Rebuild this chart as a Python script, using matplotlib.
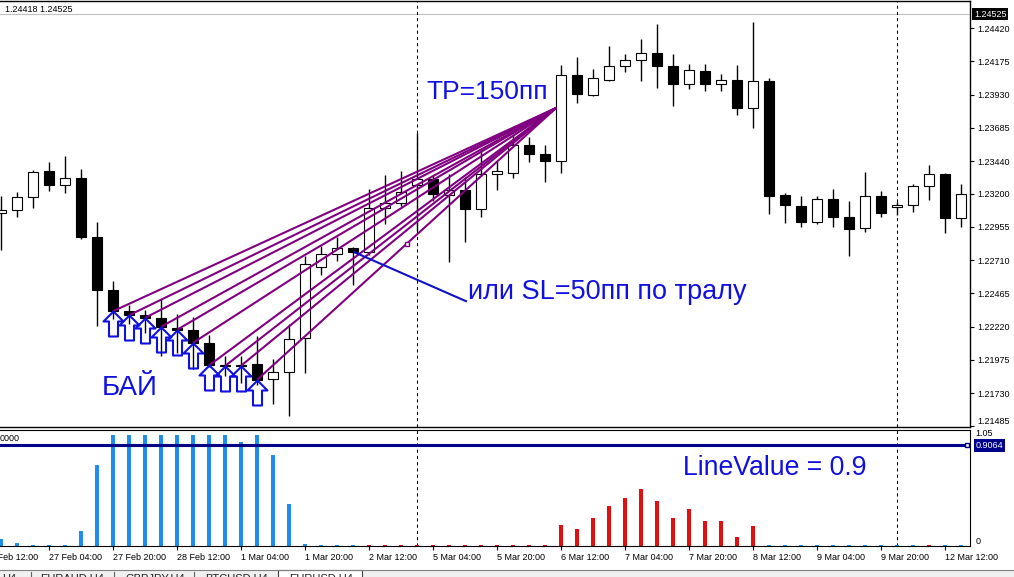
import numpy as np
import matplotlib.pyplot as plt
import matplotlib.transforms as mtransforms
from matplotlib.path import Path
from matplotlib.patches import Rectangle
from matplotlib.lines import Line2D

plt.rcParams['font.family'] = ['Liberation Sans', 'DejaVu Sans']

# EURUSD H4 candles, bar 0 = 26 Feb 16:00
opens = [1.23058, 1.23080, 1.23176, 1.23367, 1.23264, 1.23316, 1.22882, 1.22491, 1.22334, 1.22307,
         1.22285, 1.22212, 1.22194, 1.22101, 1.21938, 1.21940, 1.21942, 1.21831, 1.21888, 1.22138,
         1.22661, 1.22757, 1.22800, 1.22768, 1.23095, 1.23132, 1.23266, 1.23308, 1.23193, 1.23230,
         1.23088, 1.23344, 1.23353, 1.23561, 1.23492, 1.23445, 1.24076, 1.23929, 1.24037, 1.24142,
         1.24186, 1.24236, 1.24144, 1.24008, 1.24105, 1.24008, 1.24039, 1.23831, 1.24032, 1.23193,
         1.23112, 1.22992, 1.23163, 1.23031, 1.22948, 1.23185, 1.23102, 1.23114, 1.23257, 1.23345,
         1.23021]
highs = [1.23180, 1.23210, 1.23377, 1.23436, 1.23475, 1.23382, 1.22992, 1.22560, 1.22383, 1.22346,
         1.22425, 1.22310, 1.22290, 1.22162, 1.22003, 1.22003, 1.22148, 1.21978, 1.22236, 1.22739,
         1.22817, 1.22882, 1.22805, 1.23235, 1.23340, 1.23369, 1.23647, 1.23340, 1.23347, 1.23323,
         1.23524, 1.23438, 1.23634, 1.23615, 1.23561, 1.24150, 1.24206, 1.24120, 1.24289, 1.24231,
         1.24341, 1.24451, 1.24228, 1.24155, 1.24155, 1.24081, 1.24150, 1.24468, 1.24052, 1.23205,
         1.23180, 1.23185, 1.23232, 1.23149, 1.23357, 1.23222, 1.23136, 1.23272, 1.23414, 1.23353,
         1.23272]
lows = [1.22788, 1.23026, 1.23095, 1.23217, 1.23205, 1.22867, 1.22224, 1.22273, 1.22236, 1.22175,
        1.22003, 1.22028, 1.21905, 1.21920, 1.21856, 1.21807, 1.21787, 1.21647, 1.21561, 1.21881,
        1.22604, 1.22702, 1.22530, 1.22751, 1.22979, 1.23112, 1.22928, 1.23144, 1.22695, 1.22842,
        1.23029, 1.23230, 1.23316, 1.23434, 1.23286, 1.23353, 1.23868, 1.23924, 1.24030, 1.24100,
        1.24034, 1.23978, 1.23850, 1.23973, 1.23960, 1.23960, 1.23778, 1.23688, 1.23051, 1.22985,
        1.22955, 1.22979, 1.22955, 1.22739, 1.22915, 1.23029, 1.23046, 1.23066, 1.23151, 1.22911,
        1.22955]
closes = [1.23083, 1.23176, 1.23360, 1.23261, 1.23316, 1.22879, 1.22488, 1.22334, 1.22304, 1.22285,
          1.22219, 1.22197, 1.22101, 1.21934, 1.21930, 1.21932, 1.21828, 1.21886, 1.22131, 1.22685,
          1.22759, 1.22800, 1.22768, 1.23095, 1.23132, 1.23213, 1.23308, 1.23198, 1.23230, 1.23088,
          1.23344, 1.23369, 1.23561, 1.23492, 1.23445, 1.24076, 1.23934, 1.24052, 1.24142, 1.24186,
          1.24236, 1.24144, 1.24008, 1.24113, 1.24008, 1.24039, 1.23831, 1.24032, 1.23185, 1.23119,
          1.22992, 1.23163, 1.23026, 1.22940, 1.23185, 1.23058, 1.23119, 1.23257, 1.23345, 1.23021,
          1.23198]

# indicator histogram (blue = buy, red = sell)
buy_hist = [0.066, 0.024, 0.008, 0.008, 0.008, 0.132, 0.727, 1.0, 1.0, 1.0,
            1.0, 1.0, 1.0, 1.0, 1.0, 0.937, 1.0, 0.817, 0.375, 0.015,
            0.008, 0.008, 0.008, 0, 0, 0, 0, 0, 0, 0,
            0, 0, 0, 0, 0, 0, 0, 0, 0, 0,
            0, 0, 0, 0, 0, 0, 0, 0, 0.008, 0.008,
            0.008, 0.008, 0.008, 0.008, 0.008, 0.008, 0.008, 0.008, 0, 0.008,
            0.008]
sell_hist = [0, 0, 0, 0, 0, 0, 0, 0, 0, 0,
             0, 0, 0, 0, 0, 0, 0, 0, 0, 0,
             0, 0, 0, 0.008, 0.008, 0.008, 0.008, 0.008, 0.008, 0.008,
             0.008, 0.008, 0.008, 0.008, 0.008, 0.186, 0.15, 0.25, 0.36, 0.433,
             0.511, 0.41, 0.25, 0.33, 0.222, 0.222, 0.081, 0.177, 0, 0,
             0, 0, 0, 0, 0, 0, 0, 0, 0.008, 0,
             0]
line_value = 0.9064

buy_bars = [7, 8, 9, 10, 11, 12, 13, 14, 15, 16]
tp_bar, tp_price = 34.7, 1.23833
sl_note_end = (29.06, 1.22408)
week_seps = [26, 56]
bid, ask_txt = 1.24525, '1.24418 1.24525'

price_ticks = [1.24420, 1.24175, 1.23930, 1.23685, 1.23440, 1.23200, 1.22955,
               1.22710, 1.22465, 1.22220, 1.21975, 1.21730, 1.21485]
time_ticks = [3, 7, 11, 15, 19, 23, 27, 31, 35, 39, 43, 47, 51, 55, 59]
time_labels = ['27 Feb 04:00', '27 Feb 20:00', '28 Feb 12:00', '1 Mar 04:00', '1 Mar 20:00',
               '2 Mar 12:00', '5 Mar 04:00', '5 Mar 20:00', '6 Mar 12:00', '7 Mar 04:00',
               '7 Mar 20:00', '8 Mar 12:00', '9 Mar 04:00', '9 Mar 20:00', '12 Mar 12:00']
tabs = [('H4', 2), ('EURAUD,H4', 40), ('GBPJPY,H4', 126), ('BTCUSD,H4', 205), ('EURUSD,H4', 289)]

BLUE = '#1010e0'
W, H = 1014.0, 577.0
fig = plt.figure(figsize=(W / 100, H / 100), dpi=100)
ax = fig.add_axes([0, (H - 426.5) / H, 970 / W, 425.5 / H])
ax2 = fig.add_axes([0, (H - 546) / H, 970 / W, 116.5 / H])

o = np.array(opens); c = np.array(closes)
idx = np.arange(len(o))
up = c >= o

# candles
ax.vlines(idx, lows, highs, color='black', lw=1.0, zorder=2)
ax.bar(idx, np.maximum(np.abs(c - o), 1e-6), bottom=np.minimum(o, c), width=0.6,
       color=np.where(up, 'white', 'black'), edgecolor='black', linewidth=0.8, zorder=3)

# bid line
ax.axhline(bid, color='#c0c0c0', lw=0.8, zorder=1)

# trend lines from each buy to the target
for b in buy_bars:
    ax.plot([b, tp_bar], [closes[b], tp_price], color='#800080', lw=1.5, zorder=4,
            solid_capstyle='butt')
last = buy_bars[-1]
ax.plot((last + tp_bar) / 2, (closes[last] + tp_price) / 2, marker='s', ms=3.5,
        mfc='white', mec='#800080', mew=1, zorder=5)

# buy arrows (hollow, tip on the close)
arrow = Path([(0, 0), (10, -10), (4.5, -10), (4.5, -25), (-4.5, -25), (-4.5, -10),
              (-10, -10), (0, 0)],
             [Path.MOVETO] + [Path.LINETO] * 6 + [Path.CLOSEPOLY])
ax.plot(buy_bars, [closes[b] for b in buy_bars], ls='none', marker=arrow, ms=36,
        mfc='none', mec=BLUE, mew=1.5, zorder=6)

# SL note line
ax.plot([22.1, sl_note_end[0]], [closes[22], sl_note_end[1]], color='#1010c8', lw=1.5, zorder=5)

ax.text(26.56, 1.23900, 'TP=150пп', color=BLUE, fontsize=19, va='baseline', zorder=7)
ax.text(29.2, 1.22421, 'или SL=50пп по тралу', color=BLUE, fontsize=19.5, va='baseline', zorder=7)
ax.text(6.3, 1.21715, 'БАЙ', color=BLUE, fontsize=20, va='baseline', zorder=7)

for s in week_seps:
    ax.axvline(s, color='black', lw=0.75, ls=(0, (3, 3)), zorder=1)
    ax2.axvline(s, color='black', lw=0.75, ls=(0, (3, 3)), zorder=1)

ax.set_xlim(-1 / 16, 969 / 16)
ax.set_ylim(1.21484, 1.24621)
ax.set_xticks([])
ax.yaxis.tick_right()
ax.set_yticks(price_ticks)
ax.set_yticklabels(['%.5f' % p for p in price_ticks])
ax.tick_params(axis='y', direction='out', length=3, width=0.8, pad=2, labelsize=6.5)
ax.spines['left'].set_visible(False)
for sp in ['top', 'right', 'bottom']:
    ax.spines[sp].set_linewidth(1.0)
# bottom price label sits a little higher in the terminal
ax.get_yticklabels()[-1].set_va('bottom')

ax.text(5 / 970, 0.9805, ask_txt, transform=ax.transAxes, fontsize=6.5, va='center')
bt = mtransforms.blended_transform_factory(ax.transAxes, ax.transData)
ax.text(1.004, bid, '1.24525', transform=bt, fontsize=6.5, color='white', va='center',
        bbox=dict(facecolor='black', edgecolor='none', pad=1.2), clip_on=False)

# indicator window
ax2.bar(idx, buy_hist, width=0.2, color='#1e8cf0', zorder=2)
ax2.bar(idx, sell_hist, width=0.2, color='#e01010', zorder=2)
ax2.axhline(line_value, color='#00008b', lw=2.2, zorder=3)
ax2.plot(60.375, line_value, marker='s', ms=3.5, mfc='white', mec='#00008b', mew=1, zorder=4)
ax2.text(42.6, 0.64, 'LineValue = 0.9', color=BLUE, fontsize=19.2, va='baseline')
ax2.text(0.0, 0.927, '0000', transform=ax2.transAxes, fontsize=6.5, va='center')

ax2.set_xlim(-1 / 16, 969 / 16)
ax2.set_ylim(0, 1.05)
ax2.set_yticks([])
ax2.set_xticks(time_ticks)
ax2.set_xticklabels(time_labels)
for lab in ax2.get_xticklabels():
    lab.set_ha('left')
ax2.tick_params(axis='x', direction='out', length=3, width=0.8, pad=2, labelsize=6.5)
ax2.annotate('26 Feb 12:00', xy=(-1, 0), xycoords=('data', 'axes fraction'),
             xytext=(0, -5), textcoords='offset points', ha='left', va='top',
             fontsize=6.5, annotation_clip=False)
ax2.spines['left'].set_visible(False)

bt2 = mtransforms.blended_transform_factory(ax2.transAxes, ax2.transData)
ax2.text(1.006, 1.05, '1.05', transform=bt2, fontsize=6.5, va='top')
ax2.text(1.006, 0.0, '0', transform=bt2, fontsize=6.5, va='bottom')
ax2.text(1.006, line_value, '0.9064', transform=bt2, fontsize=6.5, color='white', va='center',
         bbox=dict(facecolor='#00008b', edgecolor='none', pad=1.2))

# tab bar at the bottom of the terminal window
fig.add_artist(Rectangle((0, 0), 1, 7 / H, transform=fig.transFigure,
                         facecolor='#f0f0f0', edgecolor='none'))
fig.add_artist(Line2D([0, 1], [7 / H, 7 / H], transform=fig.transFigure, color='#808080', lw=0.8))
fig.add_artist(Rectangle((278 / W, -0.01), 84 / W, 7.5 / H + 0.01, transform=fig.transFigure,
                         facecolor='white', edgecolor='#404040', lw=0.8))
for x in [31, 114, 194]:
    fig.add_artist(Line2D([x / W, x / W], [0, 5 / H], transform=fig.transFigure,
                          color='#606060', lw=0.8))
for name, x in tabs:
    fig.text(x / W, 3.5 / H, name, fontsize=8, va='top', color='#202020')

fig.savefig('out.png', dpi=100)
